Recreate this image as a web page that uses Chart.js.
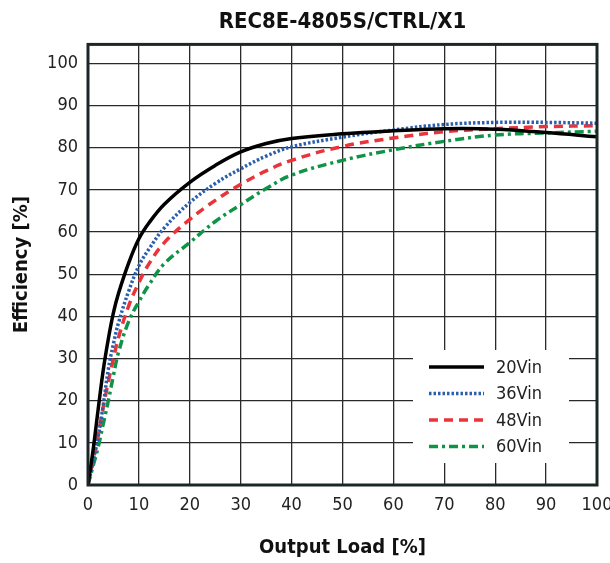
<!DOCTYPE html>
<html lang="en">
<head>
    <meta charset="UTF-8">
    <title>REC8E-4805S/CTRL/X1 Efficiency</title>
    <style>
        html, body { margin: 0; padding: 0; background: #fff; }
        #chart-container { width: 610px; height: 563px; }
    </style>
</head>
<body>
    <div id="chart-container">
        <canvas id="effChart"></canvas>
    </div>

    <script src="https://cdn.jsdelivr.net/npm/chart.js"></script>
    <script>
        // Output load (%) sample points, shared by all curves
        const load = [0, 1, 2, 3, 4, 5, 6, 8, 10, 12, 15, 20, 25, 30, 35, 40, 50, 60, 70, 80, 90, 100];

        // Efficiency (%)
        const vin20 = [0, 8.3, 18, 27.3, 34.7, 40.9, 45.5, 52.7, 58.4, 62.2, 66.6, 71.8, 75.8, 79, 81, 82.2, 83.3, 84, 84.5, 84.4, 83.6, 82.6];
        const vin36 = [0, 5.5, 11.5, 19, 27.5, 33.5, 38.5, 46, 52, 56, 61, 67, 71.5, 75, 78, 80.2, 82.5, 84.2, 85.5, 86, 86, 85.8];
        const vin48 = [0, 6, 12, 18.5, 24.5, 30, 35, 42.5, 48, 52.5, 57.5, 63, 67.5, 71.3, 74.5, 77, 80.3, 82.3, 83.8, 84.5, 85, 85.2];
        const vin60 = [0, 4.5, 9, 14.5, 20, 26, 31.5, 38.8, 43.5, 47.5, 52.5, 57.5, 62.5, 66.5, 70.3, 73.5, 77, 79.5, 81.5, 83, 83.5, 83.9];

        const seriesLabels = ['20Vin', '36Vin', '48Vin', '60Vin'];
        const xTicks = [0, 10, 20, 30, 40, 50, 60, 70, 80, 90, 100];
        const yTicks = [0, 10, 20, 30, 40, 50, 60, 70, 80, 90, 100];

        const narrow = "'Liberation Sans Narrow', 'DejaVu Sans Condensed', 'Arial Narrow', Arial, sans-serif";

        function pts(ys) {
            return load.map((x, i) => ({ x: x, y: ys[i] }));
        }

        // legend drawn inside the plot on a white box, lower right
        const insideLegend = {
            id: 'insideLegend',
            beforeDatasetsDraw(chart) {
                const ctx = chart.ctx;
                const a = chart.chartArea;
                const bx = a.right - 184, by = a.bottom - 135;
                ctx.save();
                ctx.fillStyle = '#fff';
                ctx.fillRect(bx, by, 156, 113);
                ctx.font = '18px ' + narrow;
                ctx.textBaseline = 'middle';
                chart.data.datasets.forEach((ds, i) => {
                    const y = by + 17 + i * 26.5;
                    ctx.beginPath();
                    ctx.strokeStyle = ds.borderColor;
                    ctx.lineWidth = ds.borderWidth;
                    ctx.setLineDash(ds.borderDash || []);
                    ctx.moveTo(bx + 16, y);
                    ctx.lineTo(bx + 71, y);
                    ctx.stroke();
                    ctx.setLineDash([]);
                    ctx.fillStyle = '#222';
                    ctx.fillText(ds.label, bx + 83, y + 1);
                });
                ctx.restore();
            },
            afterDraw(chart) {
                const ctx = chart.ctx;
                const a = chart.chartArea;
                ctx.save();
                ctx.strokeStyle = '#1d2626';
                ctx.lineWidth = 3;
                ctx.strokeRect(a.left, a.top, a.right - a.left, a.bottom - a.top);
                ctx.restore();
            }
        };

        const ctx = document.getElementById('effChart').getContext('2d');

        const effChart = new Chart(ctx, {
            type: 'line',
            data: {
                datasets: [
                    {
                        label: seriesLabels[0],
                        data: pts(vin20),
                        borderColor: '#000000',
                        borderWidth: 3.5
                    },
                    {
                        label: seriesLabels[1],
                        data: pts(vin36),
                        borderColor: '#2b5fad',
                        borderWidth: 3.5,
                        borderDash: [2.5, 2]
                    },
                    {
                        label: seriesLabels[2],
                        data: pts(vin48),
                        borderColor: '#e8343a',
                        borderWidth: 3.5,
                        borderDash: [9, 6]
                    },
                    {
                        label: seriesLabels[3],
                        data: pts(vin60),
                        borderColor: '#0f9447',
                        borderWidth: 3.5,
                        borderDash: [9, 4, 3, 4]
                    }
                ]
            },
            options: {
                responsive: true,
                maintainAspectRatio: false,
                animation: false,
                layout: { padding: { left: 0, right: 0, top: 0, bottom: 0 } },
                elements: {
                    point: { radius: 0 },
                    line: { tension: 0.4, fill: false }
                },
                scales: {
                    x: {
                        type: 'linear',
                        min: 0,
                        max: 100,
                        afterBuildTicks: (s) => { s.ticks = xTicks.map(v => ({ value: v })); },
                        afterFit: (s) => { s.height = 78; s.paddingRight = 13; },
                        grid: { color: '#2a2a2a', lineWidth: 1.3, drawTicks: false },
                        border: { display: false },
                        ticks: {
                            padding: 10,
                            color: '#222',
                            font: { family: narrow, size: 18 }
                        },
                        title: {
                            display: true,
                            text: 'Output Load [%]',
                            color: '#111',
                            padding: { top: 0, bottom: 3 },
                            font: { family: narrow, size: 20, weight: 'bold' }
                        }
                    },
                    y: {
                        min: 0,
                        max: 104.5,
                        afterBuildTicks: (s) => { s.ticks = yTicks.map(v => ({ value: v })); },
                        afterFit: (s) => { s.width = 88; },
                        grid: { color: '#2a2a2a', lineWidth: 1.3, drawTicks: false },
                        border: { display: false },
                        ticks: {
                            padding: 10,
                            color: '#222',
                            font: { family: narrow, size: 18 }
                        },
                        title: {
                            display: true,
                            text: 'Efficiency [%]',
                            color: '#111',
                            padding: { top: 10, bottom: 0 },
                            font: { family: narrow, size: 20, weight: 'bold' }
                        }
                    }
                },
                plugins: {
                    legend: { display: false },
                    tooltip: { enabled: false },
                    title: {
                        display: true,
                        text: 'REC8E-4805S/CTRL/X1',
                        color: '#111',
                        fullSize: false,
                        padding: { top: 9, bottom: 9 },
                        font: { family: narrow, size: 22, weight: 'bold' }
                    }
                }
            },
            plugins: [insideLegend]
        });
    </script>
</body>
</html>
